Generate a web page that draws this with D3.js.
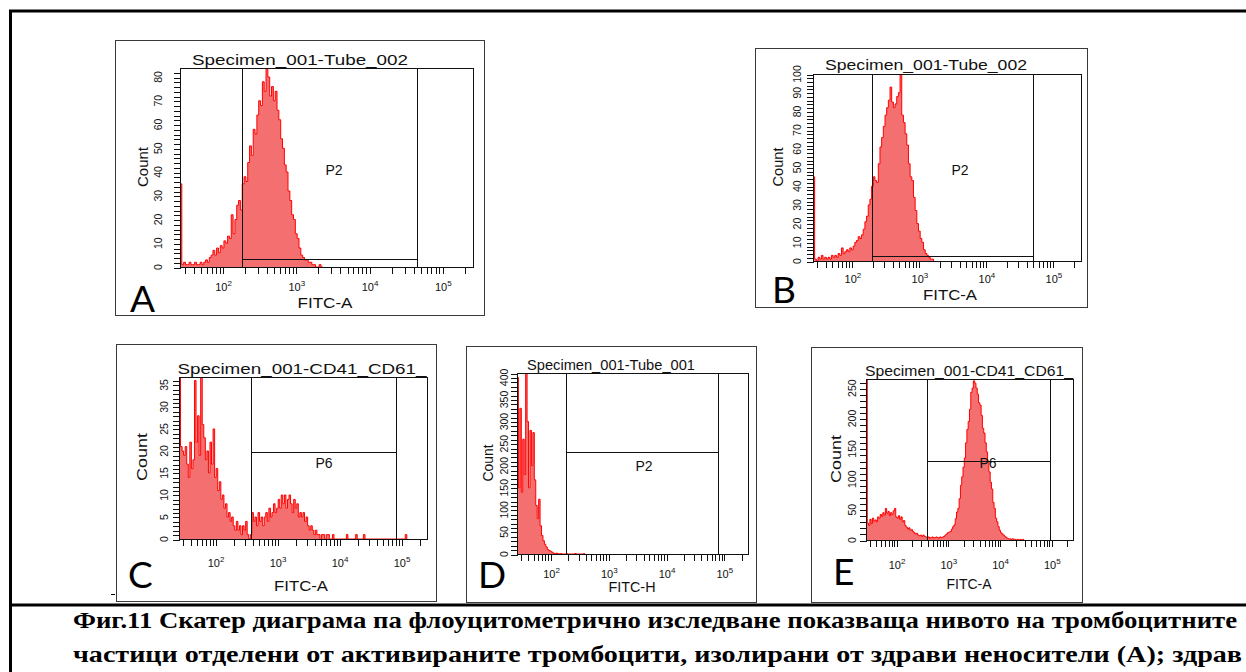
<!DOCTYPE html>
<html><head><meta charset="utf-8">
<script src="https://cdn.jsdelivr.net/npm/d3@7"></script>
<style>body{margin:0;background:#fff;overflow:hidden}svg{display:block}</style>
</head><body><svg id="c" width="1246" height="672"></svg>
<script>
// ---------- DATA ----------
const binStart = 1.418;      // log10 of first bin edge
const binWidth = 0.025;      // bin width in log10 units
const axisMin = 26.2, axisMax = 262144;
const decadeLabels = [2, 3, 4, 5];

const countsA = [35,1,2,1,1,2,1,1,2,1, 1,2,1,2,3,2,4,5,7,5, 8,6,9,8,11,10,13,12,22,14,
  20,26,28,24,35,38,36,44,51,47, 58,56,64,70,68,78,74,84,80,72, 76,70,74,66,62,54,50,43,40,32,
  28,22,20,14,12,8,5,4,3,3, 2,2,1,1,0,0,1,0];
const countsB = [45,1,0,2,1,3,1,2,1,2, 1,3,2,3,2,4,3,7,4,5, 6,5,7,6,8,10,11,13,12,14,
  17,21,24,30,33,40,45,43,42,52, 61,66,72,78,82,86,93,85,82,84, 88,90,101,78,74,68,62,52,45,43,
  34,27,20,16,12,10,6,4,3,2, 1,1];
const countsC = [37,21,20,19,21,17,14,22,16,18, 36,22,28,19,37,26,23,18,20,15, 22,17,25,14,16,11,13,9,10,7,
  8,5,6,4,5,3,2,4,2,3, 1,3,2,4,1,0,1,6,4,5, 3,6,4,5,3,5,6,4,7,5, 6,8,6,7,9,7,10,8,10,7,
  9,10,8,6,9,7,8,5,6,5, 6,4,5,3,2,3,2,1,2,1, 1,0,1,1,0,1,1,0,0,1, 0,0,0,0,0,0,0,0,1,0,
  0,0,0,0,1,0,0,0,0,1, 0,0,0,0,0,0,0,0,0,0, 0,0,0,0,0,0,0,0,0,0, 0,0,0,0,0,0,1];
const countsD = [400,150,330,140,260,180,410,300,150,280, 200,275,168,110,80,124,64,42,30,22,
  16,10,8,6,4,2,1,2,1,0, 1,0,0,0,1,0,0,0,0,0, 1,0,0,0,0,0,1];
const countsE = [270,28,24,34,27,36,31,33,30,38, 36,42,39,45,41,52,44,47,40,45, 42,48,52,38,36,40,34,38,30,32,
  24,21,18,20,16,17,14,12,10,11, 8,7,8,6,8,6,5,4,5,3, 4,5,3,4,5,4,3,5,4,5,
  6,8,10,12,13,14,18,22,25,35, 46,52,68,90,104,120,135,160,182,195, 215,243,250,262,258,250,240,226,222,205,
  184,176,160,145,130,112,95,84,62,52, 36,30,22,16,12,10,8,6,4,3, 2,2,1,2,1,1,0,1,0,1,0,1];

const panelIds    = ["A", "B", "C", "D", "E"];
const titles      = ["Specimen_001-Tube_002", "Specimen_001-Tube_002", "Specimen_001-CD41_CD61_", "Specimen_001-Tube_001", "Specimen_001-CD41_CD61_"];
const xLabels     = ["FITC-A", "FITC-A", "FITC-A", "FITC-H", "FITC-A"];
const gateNames   = ["P2", "P2", "P6", "P2", "P6"];
const yMaxes      = [83.8, 100, 36.8, 410, 265];
const yLabelSteps = [10, 10, 5, 50, 50];
const yTickSteps  = [2, 2, 1, 10, 10];
const gateLow     = [186, 197, 385, 185, 387];
const gateHigh    = [45100, 50500, 83000, 79800, 92500];
const gateLevel   = [3.4, 2.7, 19.8, 232, 130];
const allCounts   = [countsA, countsB, countsC, countsD, countsE];

const captionLines = [
  "Фиг.11 Скатер диаграма па флоуцитометрично изследване показваща нивото на тромбоцитните",
  "частици отделени от активираните тромбоцити, изолирани от здрави неносители (А); здрав"
];

// ---------- LAYOUT ----------
const layouts = [
  {box:[115,40,369,275], plot:[180,68,293,199], title:[300,65,216], xlab:[325,308,55], tickY:291, count:[142,167,40], yOff:22, gText:[334,175], letter:[130,312]},
  {box:[755,48,332,259], plot:[813,74,268,187], title:[926,70,202], xlab:[950,300,54], tickY:283, count:[777,167,39], yOff:16, gText:[960,175], letter:[772,303]},
  {box:[116,344,320,257], plot:[179,377,248,162], title:[302,374,249], xlab:[301,591,54], tickY:567, count:[141,457,48], yOff:15, gText:[324,468], letter:[128,588]},
  {box:[466,346,290,256], plot:[517,373,231,181], title:[611,370,168], xlab:[632,592,47], tickY:578, count:[487,463,37], yOff:13, gText:[644,471], letter:[478,588]},
  {box:[811,347,271,255], plot:[866,379,207,161], title:[969,376,208], xlab:[969,589,45], tickY:569, count:[835,459,48], yOff:14, gText:[988,468], letter:[833,585]}
];

const svg = d3.select("#c");
const FONT = "'Liberation Sans', Arial, sans-serif";

// outer frame
svg.append("line").attr("x1",9).attr("x2",1246).attr("y1",11).attr("y2",11).attr("stroke","#000").attr("stroke-width",3);
svg.append("line").attr("x1",10.5).attr("x2",10.5).attr("y1",10).attr("y2",672).attr("stroke","#000").attr("stroke-width",3);
svg.append("line").attr("x1",9).attr("x2",1246).attr("y1",605).attr("y2",605).attr("stroke","#000").attr("stroke-width",3);
svg.append("line").attr("x1",111).attr("x2",115).attr("y1",594.5).attr("y2",594.5).attr("stroke","#000").attr("stroke-width",1);

panelIds.forEach((id, k) => {
  const L = layouts[k];
  const [px, py, pw, ph] = L.plot;
  const g = svg.append("g");
  g.append("rect").attr("x",L.box[0]+0.5).attr("y",L.box[1]+0.5).attr("width",L.box[2]).attr("height",L.box[3])
    .attr("fill","#fff").attr("stroke","#3a3a3a").attr("stroke-width",1);

  const x = d3.scaleLog().domain([axisMin, axisMax]).range([px, px + pw]);
  const y = d3.scaleLinear().domain([0, yMaxes[k]]).range([py + ph, py]);

  const counts = allCounts[k];
  const pts = [{v: Math.pow(10, binStart), c: 0}];
  counts.forEach((c, i) => pts.push({v: Math.pow(10, binStart + i * binWidth), c}));
  pts.push({v: Math.pow(10, binStart + counts.length * binWidth), c: 0});

  const clipId = "clip" + id;
  svg.append("clipPath").attr("id", clipId).append("rect").attr("x",px).attr("y",py).attr("width",pw).attr("height",ph);

  const hg = g.append("g").attr("clip-path", `url(#${clipId})`);
  const cap = yMaxes[k] * 1.05;
  const area = d3.area().x(d => x(d.v)).y0(y(0)).y1(d => y(Math.min(d.c, cap))).curve(d3.curveStepAfter);
  const line = d3.line().x(d => x(d.v)).y(d => y(Math.min(d.c, cap))).curve(d3.curveStepAfter);
  hg.append("path").attr("d", area(pts)).attr("fill", "#f47070");
  hg.append("path").attr("d", line(pts)).attr("fill", "none").attr("stroke", "#ff0000").attr("stroke-width", 1);

  g.append("rect").attr("x",px+0.5).attr("y",py+0.5).attr("width",pw).attr("height",ph)
    .attr("fill","none").attr("stroke","#111").attr("stroke-width",1);

  const gx1 = Math.round(x(gateLow[k])) + 0.5, gx2 = Math.round(x(gateHigh[k])) + 0.5;
  const gy = Math.round(y(gateLevel[k])) + 0.5;
  g.append("line").attr("x1",gx1).attr("x2",gx1).attr("y1",py).attr("y2",py+ph).attr("stroke","#111");
  g.append("line").attr("x1",gx2).attr("x2",gx2).attr("y1",py).attr("y2",py+ph).attr("stroke","#111");
  g.append("line").attr("x1",gx1).attr("x2",gx2).attr("y1",gy).attr("y2",gy).attr("stroke","#111");

  const xa = g.append("g").attr("transform", `translate(0.5,${py + ph + 0.5})`)
    .call(d3.axisBottom(x).tickSize(6).tickFormat(""));
  xa.select(".domain").remove();
  xa.selectAll("line").attr("stroke","#111").attr("shape-rendering","crispEdges");
  decadeLabels.forEach(p => {
    const t = g.append("text").attr("x", x(Math.pow(10, p)) + 1).attr("y", L.tickY)
      .attr("text-anchor","middle").attr("font-family",FONT).attr("font-size",11).attr("fill","#111");
    t.append("tspan").text("10");
    t.append("tspan").attr("dy",-5).attr("font-size",8).text(p);
  });

  const yTicks = d3.range(0, yMaxes[k] + 1e-9, yTickSteps[k]);
  const ya = g.append("g").attr("transform", `translate(${px + 0.5},0.5)`)
    .call(d3.axisLeft(y).tickValues(yTicks).tickSize(7).tickFormat(""));
  ya.select(".domain").remove();
  ya.selectAll("line").attr("stroke","#111").attr("shape-rendering","crispEdges");
  d3.range(0, yMaxes[k] + 1e-9, yLabelSteps[k]).forEach(v => {
    g.append("text").attr("transform", `translate(${px - L.yOff},${y(v)}) rotate(-90)`)
      .attr("text-anchor","middle").attr("dominant-baseline","central")
      .attr("font-family",FONT).attr("font-size",10.5).attr("fill","#111").text(v);
  });

  g.append("text").attr("x", L.title[0] - L.title[2] / 2).attr("y", L.title[1])
    .attr("textLength", L.title[2]).attr("lengthAdjust","spacingAndGlyphs")
    .attr("font-family",FONT).attr("font-size",15).attr("fill","#111").text(titles[k]);
  g.append("text").attr("x", L.xlab[0] - L.xlab[2] / 2).attr("y", L.xlab[1])
    .attr("textLength", L.xlab[2]).attr("lengthAdjust","spacingAndGlyphs")
    .attr("font-family",FONT).attr("font-size",14).attr("fill","#111").text(xLabels[k]);
  g.append("text").attr("transform", `translate(${L.count[0]},${L.count[1]}) rotate(-90)`)
    .attr("x", -L.count[2] / 2).attr("dominant-baseline","central")
    .attr("textLength", L.count[2]).attr("lengthAdjust","spacingAndGlyphs")
    .attr("font-family",FONT).attr("font-size",15).attr("fill","#111").text("Count");
  g.append("text").attr("x", L.gText[0]).attr("y", L.gText[1]).attr("text-anchor","middle")
    .attr("font-family",FONT).attr("font-size",14).attr("fill","#111").text(gateNames[k]);
  g.append("text").attr("x", L.letter[0]).attr("y", L.letter[1])
    .attr("font-family","Lato, 'Open Sans', sans-serif").attr("font-size",37).attr("fill","#000").text(id);
});

// caption
const capX = [73, 73], capY = [628, 662], capW = [1164, 1169];
captionLines.forEach((s, i) => {
  svg.append("text").attr("x", capX[i]).attr("y", capY[i])
    .attr("textLength", capW[i]).attr("lengthAdjust","spacingAndGlyphs")
    .attr("font-family","'Liberation Serif', 'Times New Roman', serif").attr("font-weight","bold")
    .attr("font-size",24).attr("fill","#000").text(s);
});
</script></body></html>
